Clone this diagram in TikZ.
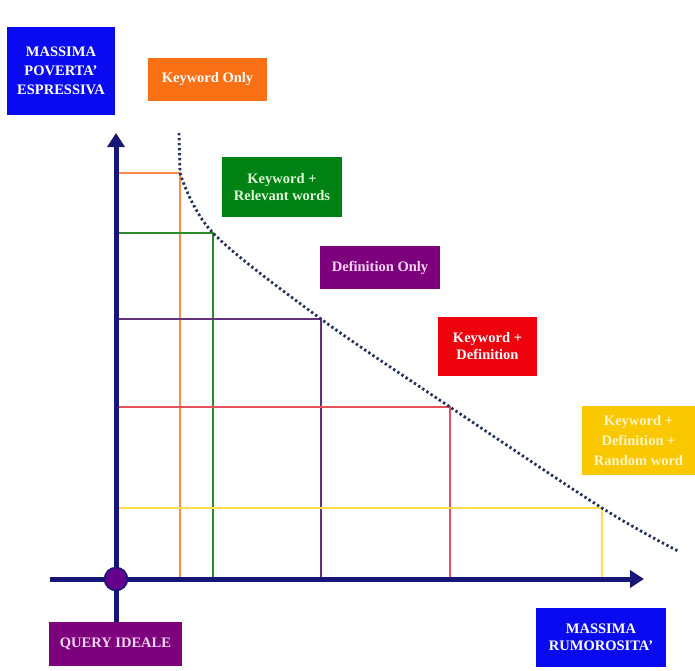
\documentclass[tikz,border=0pt]{standalone}
\usepackage{fontspec}
\setmainfont{Liberation Serif}
\usetikzlibrary{arrows.meta}
\definecolor{bxblue}{RGB}{10,10,240}
\definecolor{bxorange}{RGB}{250,112,20}
\definecolor{bxgreen}{RGB}{0,130,20}
\definecolor{bxpurple}{RGB}{125,0,125}
\definecolor{bxred}{RGB}{238,0,12}
\definecolor{bxyellow}{RGB}{250,200,0}
\definecolor{axisnavy}{RGB}{22,22,120}
\definecolor{dotnavy}{RGB}{35,50,95}
\definecolor{lnorange}{RGB}{255,140,70}
\definecolor{lngreen}{RGB}{40,140,40}
\definecolor{lnpurple}{RGB}{100,50,120}
\definecolor{lnred}{RGB}{230,80,90}
\definecolor{lnyellow}{RGB}{255,220,80}
\definecolor{pinkwhite}{RGB}{250,215,250}
\tikzset{
  labelbox/.style={draw=none, text=white, font=\bfseries\fontsize{14.5}{17}\selectfont,
    align=center, inner sep=0pt, minimum width=#1},
  guide/.style={line width=2pt},
  axisline/.style={draw=axisnavy, line width=5pt, -{Triangle[length=14pt,width=17pt]}},
}
\begin{document}
\begin{tikzpicture}[x=1pt,y=-1pt]
\useasboundingbox (0,0) rectangle (695,670);
% coordinates
\coordinate (O) at (116,579);
\coordinate (ytop) at (116,133);
\coordinate (xleft) at (50,579);
\coordinate (xtip) at (644,579);
\coordinate (c1) at (180,173);
\coordinate (c2) at (213,233);
\coordinate (c3) at (321,319);
\coordinate (c4) at (450,407);
\coordinate (c5) at (602,508);
\coordinate (cstart) at (179,133);
\coordinate (cend) at (678,551);
% guide lines
\draw[guide, lnorange] (O |- c1) -- (c1) -- (c1 |- O);
\draw[guide, lngreen] (O |- c2) -- (c2) -- (c2 |- O);
\draw[guide, lnpurple] (O |- c3) -- (c3) -- (c3 |- O);
\draw[guide, lnred] (O |- c4) -- (c4) -- (c4 |- O);
\draw[guide, lnyellow] (O |- c5) -- (c5) -- (c5 |- O);
% dotted curve
\draw[dotnavy, line width=2.8pt, dash pattern=on 2.4pt off 2.6pt]
  (cstart) -- (c1) plot[smooth, tension=0.55] coordinates {(c1) (c2) (c3) (c4) (c5) (cend)};
% boxes
\node[labelbox=108pt, minimum height=88pt, fill=bxblue, font=\bfseries\fontsize{14.5}{19}\selectfont] (povr) at (61,71) {MASSIMA\\POVERTA'\\ESPRESSIVA};
\node[labelbox=119pt, minimum height=43pt, fill=bxorange] (kwonly) at (207.5,79.5) {Keyword Only};
\node[labelbox=120pt, minimum height=60pt, fill=bxgreen, text={rgb,255:red,225;green,250;blue,215}] (kwrel) at (282,187) {Keyword +\\Relevant words};
\node[labelbox=120pt, minimum height=43pt, fill=bxpurple, text=pinkwhite] (defonly) at (380,267.5) {Definition Only};
\node[labelbox=99pt, minimum height=59pt, fill=bxred] (kwdef) at (487.5,346.5) {Keyword +\\Definition};
\node[labelbox=113pt, minimum height=69pt, fill=bxyellow, text={rgb,255:red,255;green,245;blue,200}, font=\bfseries\fontsize{14.5}{20}\selectfont] (kwrand) at (638.5,440.5) {Keyword +\\Definition +\\Random word};
\node[labelbox=133pt, minimum height=44pt, fill=bxpurple, text=pinkwhite] (query) at (115.5,644) {QUERY IDEALE};
\node[labelbox=130pt, minimum height=59pt, fill=bxblue] (rumor) at (601,637.5) {MASSIMA\\RUMOROSITA'};
% axes
\draw[axisline] (query.north -| O) -- (ytop);
\draw[axisline] (xleft) -- (xtip);
\node[circle, fill={rgb,255:red,100;green,0;blue,140}, draw=axisnavy, line width=1.5pt, minimum size=23pt, inner sep=0pt] (ideal) at (O) {};
\end{tikzpicture}
\end{document}
